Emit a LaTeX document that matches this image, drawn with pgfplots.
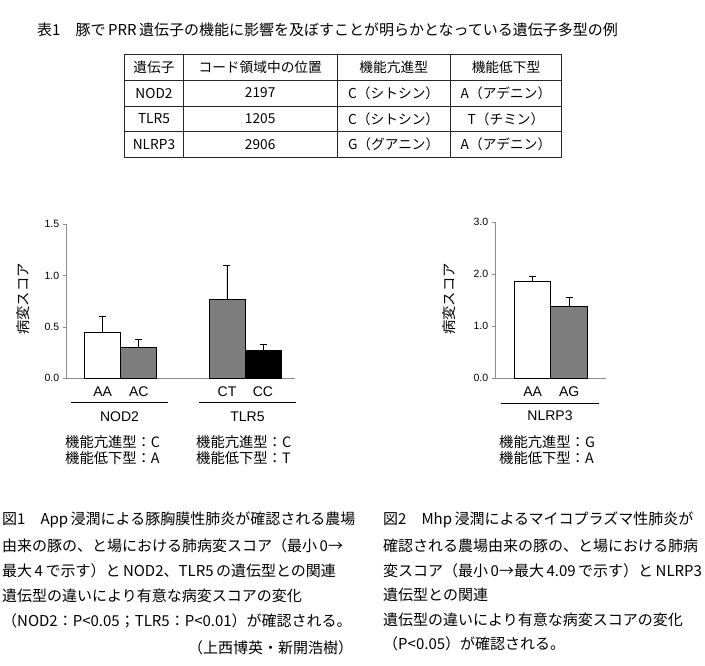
\documentclass[border=0pt]{standalone}
\usepackage{pgfplots}
\pgfplotsset{compat=1.18}
\usepackage{fontspec}
\setmainfont{Liberation Sans}
\newfontfamily\jp{Noto Sans CJK JP}
\definecolor{bargray}{RGB}{125,125,125}
\definecolor{axgray}{RGB}{140,140,140}
\newcommand{\captxt}[1]{\jp\fontsize{15pt}{18pt}\selectfont #1}
\newcommand{\tabtxt}[1]{\jp\fontsize{13.7pt}{16pt}\selectfont #1}
\newcommand{\gentxt}[1]{\jp\fontsize{14.3pt}{16pt}\selectfont #1}
\pgfplotsset{
  barchart/.style={
    scale only axis,
    axis x line*=bottom, axis y line*=left,
    axis line style={axgray, line width=0.8pt},
    ymin=0,
    tick align=outside,
    major tick length=4pt,
    ytick style={axgray, line width=0.8pt},
    xtick style={draw=none},
    yticklabel style={font=\fontsize{10.5pt}{12pt}\selectfont,
      /pgf/number format/fixed, /pgf/number format/fixed zerofill,
      /pgf/number format/precision=1, /pgf/number format/assume math mode=true},
    xticklabel style={font=\fontsize{14pt}{16pt}\selectfont, yshift=-1pt},
    clip=false,
  },
  mybar/.style={ybar, bar width=1, bar shift=0pt, draw=black, line width=0.8pt,
    error bars/y dir=plus, error bars/y explicit,
    error bars/error bar style={black, line width=0.8pt},
    error bars/error mark options={rotate=90, black, mark size=3.5pt, line width=0.8pt}},
}
\begin{document}
\begin{tikzpicture}
\path (0pt,0pt) rectangle (705pt,-665pt);
% title
\node[anchor=west, inner sep=0pt] at (37pt,-30pt) {\captxt{表1　豚で\,PRR\,遺伝子の機能に影響を及ぼすことが明らかとなっている遺伝子多型の例}};
% table
\foreach \yy in {80.2,106,131.7}{\draw[line width=0.8pt, black!85] (124.5pt,-\yy pt) -- (561.5pt,-\yy pt);}
\foreach \xx in {183.5,337,450.5}{\draw[line width=0.8pt, black!85] (\xx pt,-54.5pt) -- (\xx pt,-157.3pt);}
\draw[line width=1.1pt, black!85] (124.5pt,-54.5pt) rectangle (561.5pt,-157.3pt);
\node at (154pt,-67.3pt) {\tabtxt{遺伝子}};
\node at (260.2pt,-67.3pt) {\tabtxt{コード領域中の位置}};
\node at (393.7pt,-67.3pt) {\tabtxt{機能亢進型}};
\node at (506pt,-67.3pt) {\tabtxt{機能低下型}};
\node at (154pt,-93.1pt) {\tabtxt{NOD2}};
\node at (260.2pt,-93.1pt) {\tabtxt{2197}};
\node at (393.7pt,-93.1pt) {\tabtxt{C（シトシン）}};
\node at (506pt,-93.1pt) {\tabtxt{A（アデニン）}};
\node at (154pt,-118.8pt) {\tabtxt{TLR5}};
\node at (260.2pt,-118.8pt) {\tabtxt{1205}};
\node at (393.7pt,-118.8pt) {\tabtxt{C（シトシン）}};
\node at (506pt,-118.8pt) {\tabtxt{T（チミン）}};
\node at (154pt,-144.5pt) {\tabtxt{NLRP3}};
\node at (260.2pt,-144.5pt) {\tabtxt{2906}};
\node at (393.7pt,-144.5pt) {\tabtxt{G（グアニン）}};
\node at (506pt,-144.5pt) {\tabtxt{A（アデニン）}};

% left chart
\begin{axis}[barchart, at={(66.7pt,-378.3pt)}, anchor=south west,
  width=228pt, height=154pt, xmin=-1, xmax=5.33, ymax=1.5,
  ytick={0,0.5,1,1.5}, xtick={0,1,3.45,4.45}, xticklabels={AA,AC,CT,CC}]
\addplot[mybar, fill=white] coordinates {(0,0.451) +- (0,0.156)};
\addplot[mybar, fill=bargray] coordinates {(1,0.298) +- (0,0.082)};
\addplot[mybar, fill=bargray] coordinates {(3.45,0.77) +- (0,0.327)};
\addplot[mybar, fill=black] coordinates {(4.45,0.27) +- (0,0.065)};
\end{axis}
% right chart
\begin{axis}[barchart, at={(495.7pt,-378.3pt)}, anchor=south west,
  width=110.3pt, height=156pt, xmin=-1.01, xmax=2.01, ymax=3,
  ytick={0,1,2,3}, xtick={0,1}, xticklabels={AA,AG}]
\addplot[mybar, fill=white] coordinates {(0,1.865) +- (0,0.089)};
\addplot[mybar, fill=bargray] coordinates {(1,1.39) +- (0,0.167)};
\end{axis}

% y labels
\node[rotate=90] at (23pt,-299pt) {\gentxt{病変スコア}};
\node[rotate=90] at (449.3pt,-299pt) {\gentxt{病変スコア}};
% group lines and labels
\draw[line width=0.8pt] (71pt,-402pt) -- (168pt,-402pt);
\draw[line width=0.8pt] (199pt,-402pt) -- (296pt,-402pt);
\draw[line width=0.8pt] (500.7pt,-403pt) -- (599.3pt,-403pt);
\node at (119.5pt,-417pt) {\fontsize{14pt}{16pt}\selectfont NOD2};
\node at (247.5pt,-417pt) {\fontsize{14pt}{16pt}\selectfont TLR5};
\node at (550pt,-416pt) {\fontsize{14pt}{16pt}\selectfont NLRP3};
\node[anchor=west, inner sep=0pt] at (65pt,-442pt) {\gentxt{機能亢進型：C}};
\node[anchor=west, inner sep=0pt] at (65pt,-458pt) {\gentxt{機能低下型：A}};
\node[anchor=west, inner sep=0pt] at (196pt,-442pt) {\gentxt{機能亢進型：C}};
\node[anchor=west, inner sep=0pt] at (196pt,-458pt) {\gentxt{機能低下型：T}};
\node[anchor=west, inner sep=0pt] at (499pt,-442pt) {\gentxt{機能亢進型：G}};
\node[anchor=west, inner sep=0pt] at (499pt,-458pt) {\gentxt{機能低下型：A}};

% captions left
\node[anchor=west, inner sep=0pt] at (2pt,-520pt) {\captxt{図1　App\,浸潤による豚胸膜性肺炎が確認される農場}};
\node[anchor=west, inner sep=0pt] at (2pt,-546pt) {\captxt{由来の豚の、と場における肺病変スコア（最小\,0→}};
\node[anchor=west, inner sep=0pt] at (2pt,-571pt) {\captxt{最大\,4\,で示す）と\,NOD2、TLR5\,の遺伝型との関連}};
\node[anchor=west, inner sep=0pt] at (2pt,-596pt) {\captxt{遺伝型の違いにより有意な病変スコアの変化}};
\node[anchor=west, inner sep=0pt] at (2pt,-621pt) {\captxt{（NOD2：P<0.05；TLR5：P<0.01）が確認される。}};
\node[anchor=west, inner sep=0pt] at (188pt,-648pt) {\captxt{（上西博英・新開浩樹）}};
% captions right
\node[anchor=west, inner sep=0pt] at (383pt,-520pt) {\captxt{図2　Mhp\,浸潤によるマイコプラズマ性肺炎が}};
\node[anchor=west, inner sep=0pt] at (383pt,-546pt) {\captxt{確認される農場由来の豚の、と場における肺病}};
\node[anchor=west, inner sep=0pt] at (383pt,-571pt) {\captxt{変スコア（最小\,0→最大\,4.09\,で示す）と\,NLRP3}};
\node[anchor=west, inner sep=0pt] at (383pt,-595pt) {\captxt{遺伝型との関連}};
\node[anchor=west, inner sep=0pt] at (383pt,-620pt) {\captxt{遺伝型の違いにより有意な病変スコアの変化}};
\node[anchor=west, inner sep=0pt] at (383pt,-644pt) {\captxt{（P<0.05）が確認される。}};
\end{tikzpicture}
\end{document}
